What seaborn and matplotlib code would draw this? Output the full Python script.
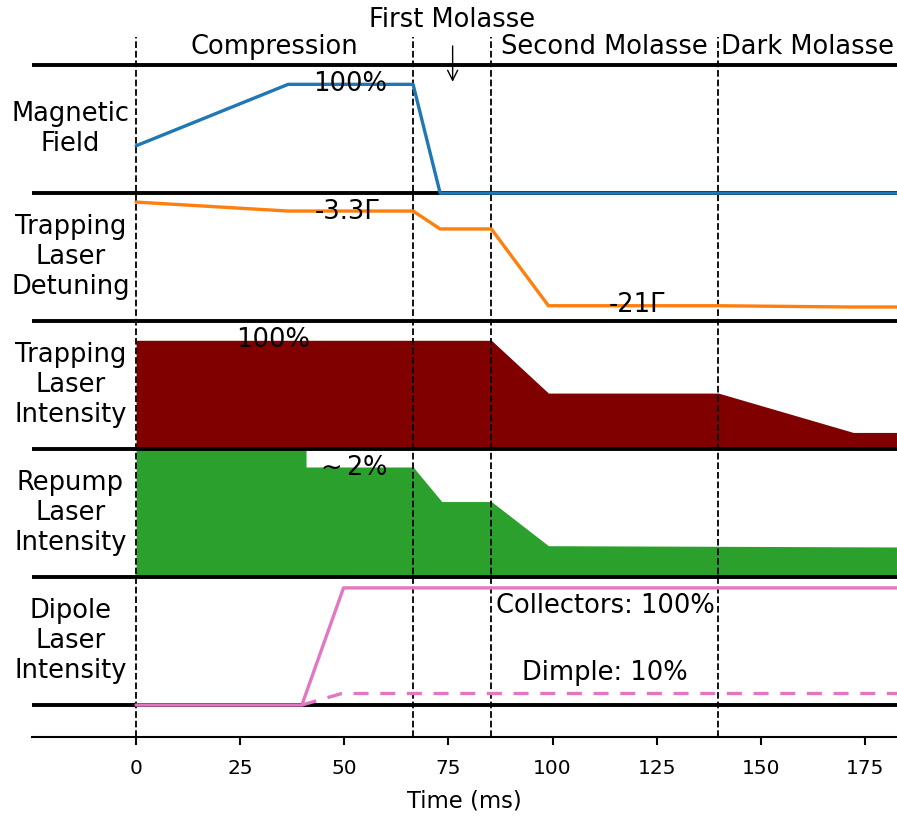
import matplotlib
matplotlib.use("Agg")
from matplotlib import pyplot as plt
import seaborn as sns

# Sequence timing (ms)
phase_edges = [0, 66.5, 85.3, 139.8]
t_end = 183

# Magnetic field (row-relative height)
mag_t = [0, 36.5, 66.5, 73, t_end]
mag_v = [0.37, 0.85, 0.85, 0, 0]

# Trapping laser detuning
det_t = [0, 36.5, 66.5, 73, 85.3, 99, 139.8, 172.2, t_end]
det_v = [0.93, 0.86, 0.86, 0.72, 0.72, 0.12, 0.12, 0.11, 0.11]

# Trapping laser intensity
trap_t = [0, 85.3, 99, 139.8, 172.2, t_end]
trap_v = [0.85, 0.85, 0.4375, 0.4375, 0.13, 0.13]

# Repump laser intensity
rep_t = [0, 40.8, 40.8, 66.5, 73.4, 85.3, 99, t_end]
rep_v = [1.0, 1.0, 0.86, 0.86, 0.59, 0.59, 0.245, 0.235]

# Dipole laser intensity
col_t = [0, 39.8, 49.8, t_end]
col_v = [0, 0, 0.915, 0.915]
dim_t = [39.8, 49.4, t_end]
dim_v = [0, 0.09, 0.09]

row_labels = ["Magnetic\nField", "Trapping\nLaser\nDetuning", "Trapping\nLaser\nIntensity",
              "Repump\nLaser\nIntensity", "Dipole\nLaser\nIntensity"]

sns.set_style("white", rc={"text.color": "black", "axes.labelcolor": "black",
                           "xtick.color": "black", "axes.edgecolor": "black"})
plt.rcParams["font.family"] = ["DejaVu Sans"]
fs = 18.5

fig = plt.figure(figsize=(8.97, 8.16), dpi=100)
ax = fig.add_axes([32 / 897, 1 - 737 / 816, 1 - 32 / 897, 700 / 816])

# row baselines: magnetic=4, detuning=3, trap=2, repump=1, dipole=0
for y in range(6):
    ax.axhline(y, color="k", lw=2.8, zorder=2)

for t in phase_edges:
    ax.axvline(t, color="k", ls="--", lw=1.3, zorder=2.5)

sns.lineplot(x=mag_t, y=[4 + v for v in mag_v], ax=ax, color="#1f77b4", lw=2.4,
             estimator=None, sort=False, zorder=3)
sns.lineplot(x=det_t, y=[3 + v for v in det_v], ax=ax, color="#ff7f0e", lw=2.4,
             estimator=None, sort=False, zorder=3)
ax.fill_between(trap_t, 2, [2 + v for v in trap_v], color="#800000", lw=0, zorder=1)
ax.fill_between(rep_t, 1, [1 + v for v in rep_v], color="#2ca02c", lw=0, zorder=1)
sns.lineplot(x=col_t, y=col_v, ax=ax, color="#e377c2", lw=2.4,
             estimator=None, sort=False, zorder=3)
sns.lineplot(x=dim_t, y=dim_v, ax=ax, color="#e377c2", lw=2.4, linestyle=(0, (4.5, 3.5)),
             estimator=None, sort=False, zorder=3)

# annotations
ax.text(51.4, 4.85, "100%", ha="center", va="center", fontsize=fs)
ax.text(50.6, 3.85, "-3.3Γ", ha="center", va="center", fontsize=fs)
ax.text(120.3, 3.125, "-21Γ", ha="center", va="center", fontsize=fs)
ax.text(32.9, 2.85, "100%", ha="center", va="center", fontsize=fs)
ax.text(51.8, 1.855, r"$\sim$2%", ha="center", va="center", fontsize=fs)
ax.text(112.6, 0.776, "Collectors: 100%", ha="center", va="center", fontsize=fs)
ax.text(112.6, 0.25, "Dimple: 10%", ha="center", va="center", fontsize=fs)

for i, lab in enumerate(row_labels):
    ax.text(-15.8, 4.5 - i, lab, ha="center", va="center", fontsize=fs)

# phase names
ax.text(33.2, 5.14, "Compression", ha="center", va="center", fontsize=fs)
ax.text(112.5, 5.14, "Second Molasse", ha="center", va="center", fontsize=fs)
ax.text(161.3, 5.14, "Dark Molasse", ha="center", va="center", fontsize=fs)
ax.text(75.8, 5.35, "First Molasse", ha="center", va="center", fontsize=fs, clip_on=False)
ax.annotate("", xy=(76, 4.87), xytext=(76, 5.15),
            arrowprops=dict(arrowstyle="->", lw=1, color="k", mutation_scale=18,
                            shrinkA=0, shrinkB=0))

ax.set_xlim(-25, 182.7)
ax.set_ylim(-0.25, 5.22)
ax.set_yticks([])
ax.set_xticks([0, 25, 50, 75, 100, 125, 150, 175])
ax.tick_params(axis="x", direction="out", length=6, width=1.5, labelsize=14.5,
               pad=10, bottom=True)
ax.set_xlabel("Time (ms)", fontsize=16.4, labelpad=8)
for side in ["left", "right", "top"]:
    ax.spines[side].set_visible(False)
ax.spines["bottom"].set_linewidth(1.5)

fig.savefig("out.png", dpi=100)
